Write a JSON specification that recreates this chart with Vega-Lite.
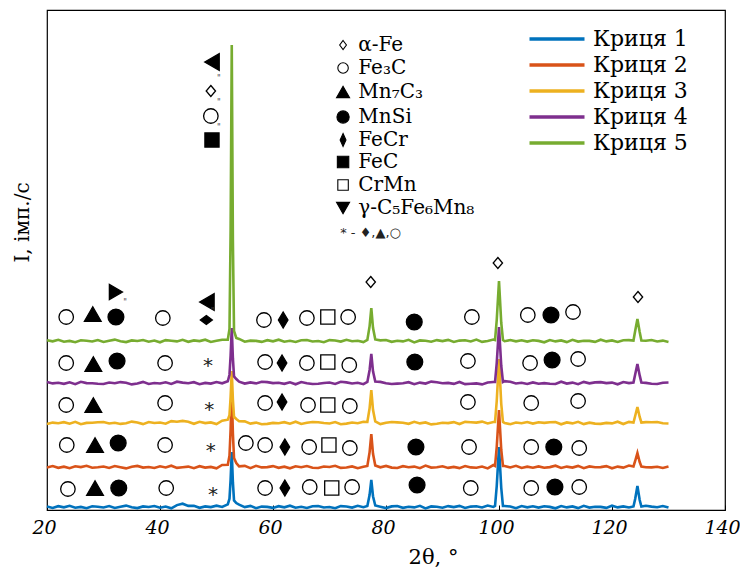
{
"$schema":"https://vega.github.io/schema/vega-lite/v6.json",
"width":678,"height":500,
"autosize":{"type":"none"},
"padding":{"left":47,"top":10,"right":15,"bottom":65},
"background":"white",
"datasets":{
"xrd":[
{"c":1,"x":20,"y":3.4},{"c":1,"x":21,"y":2.1},{"c":1,"x":22,"y":3.8},{"c":1,"x":23,"y":2.7},{"c":1,"x":24,"y":4.2},{"c":1,"x":25,"y":2.3},{"c":1,"x":26,"y":3.1},{"c":1,"x":27,"y":1.8},{"c":1,"x":28,"y":3.7},{"c":1,"x":29,"y":3.2},{"c":1,"x":30,"y":2.5},{"c":1,"x":31,"y":4.0},{"c":1,"x":32,"y":2.1},{"c":1,"x":33,"y":3.3},{"c":1,"x":34,"y":4.4},{"c":1,"x":35,"y":2.8},{"c":1,"x":36,"y":1.9},{"c":1,"x":37,"y":3.6},{"c":1,"x":38,"y":3.0},{"c":1,"x":39,"y":4.0},{"c":1,"x":40,"y":2.3},{"c":1,"x":41,"y":3.5},{"c":1,"x":42,"y":1.7},{"c":1,"x":43,"y":4.9},{"c":1,"x":44,"y":6.3},{"c":1,"x":45,"y":4.1},{"c":1,"x":46,"y":4.2},{"c":1,"x":47,"y":2.2},{"c":1,"x":48,"y":3.6},{"c":1,"x":49,"y":2.9},{"c":1,"x":50,"y":4.3},{"c":1,"x":51,"y":3.0},{"c":1,"x":52,"y":5.7},{"c":1,"x":52.3,"y":11.3},{"c":1,"x":52.5,"y":30.5},{"c":1,"x":52.7,"y":58},{"c":1,"x":52.9,"y":27.8},{"c":1,"x":53.1,"y":9.6},{"c":1,"x":53.5,"y":7},{"c":1,"x":54,"y":5.3},{"c":1,"x":55,"y":2.9},{"c":1,"x":56,"y":4.1},{"c":1,"x":57,"y":1.8},{"c":1,"x":58,"y":3.4},{"c":1,"x":59,"y":3.1},{"c":1,"x":60,"y":2.1},{"c":1,"x":61,"y":3.8},{"c":1,"x":62,"y":2.7},{"c":1,"x":63,"y":4.3},{"c":1,"x":64,"y":2.3},{"c":1,"x":65,"y":3.2},{"c":1,"x":66,"y":2.0},{"c":1,"x":67,"y":3.7},{"c":1,"x":68,"y":4.0},{"c":1,"x":69,"y":2.5},{"c":1,"x":70,"y":3.0},{"c":1,"x":71,"y":1.8},{"c":1,"x":72,"y":3.9},{"c":1,"x":73,"y":3.5},{"c":1,"x":74,"y":2.4},{"c":1,"x":75,"y":4.2},{"c":1,"x":76,"y":2.8},{"c":1,"x":76.7,"y":4},{"c":1,"x":77.1,"y":15.2},{"c":1,"x":77.4,"y":30},{"c":1,"x":77.7,"y":13.8},{"c":1,"x":78.1,"y":4.5},{"c":1,"x":79,"y":3.3},{"c":1,"x":80,"y":1.9},{"c":1,"x":81,"y":3.6},{"c":1,"x":82,"y":4.0},{"c":1,"x":83,"y":2.2},{"c":1,"x":84,"y":3.2},{"c":1,"x":85,"y":2.6},{"c":1,"x":86,"y":4.2},{"c":1,"x":87,"y":1.6},{"c":1,"x":88,"y":3.6},{"c":1,"x":89,"y":3.2},{"c":1,"x":90,"y":2.3},{"c":1,"x":91,"y":3.9},{"c":1,"x":92,"y":2.9},{"c":1,"x":93,"y":4.1},{"c":1,"x":94,"y":2.0},{"c":1,"x":95,"y":3.4},{"c":1,"x":96,"y":3.7},{"c":1,"x":97,"y":2.5},{"c":1,"x":98,"y":4.4},{"c":1,"x":99,"y":3.1},{"c":1,"x":99.3,"y":4},{"c":1,"x":99.6,"y":24},{"c":1,"x":100,"y":63},{"c":1,"x":100.4,"y":22},{"c":1,"x":100.7,"y":4},{"c":1,"x":101,"y":4.0},{"c":1,"x":102,"y":3.5},{"c":1,"x":103,"y":1.8},{"c":1,"x":104,"y":4.0},{"c":1,"x":105,"y":2.7},{"c":1,"x":106,"y":3.7},{"c":1,"x":107,"y":2.4},{"c":1,"x":108,"y":3.8},{"c":1,"x":109,"y":3.1},{"c":1,"x":110,"y":1.7},{"c":1,"x":111,"y":4.0},{"c":1,"x":112,"y":2.6},{"c":1,"x":113,"y":3.6},{"c":1,"x":114,"y":1.9},{"c":1,"x":115,"y":4.2},{"c":1,"x":116,"y":2.4},{"c":1,"x":117,"y":3.3},{"c":1,"x":118,"y":3.1},{"c":1,"x":119,"y":2.1},{"c":1,"x":120,"y":4.3},{"c":1,"x":121,"y":2.6},{"c":1,"x":122,"y":3.6},{"c":1,"x":123,"y":2.5},{"c":1,"x":123.8,"y":3.5},{"c":1,"x":124.1,"y":11},{"c":1,"x":124.5,"y":24},{"c":1,"x":124.9,"y":10},{"c":1,"x":125.2,"y":3.5},{"c":1,"x":126,"y":4.3},{"c":1,"x":127,"y":3.4},{"c":1,"x":128,"y":2.7},{"c":1,"x":129,"y":4.0},{"c":1,"x":130,"y":2.5},
{"c":2,"x":20,"y":42.6},{"c":2,"x":21,"y":43.9},{"c":2,"x":22,"y":42.2},{"c":2,"x":23,"y":43.3},{"c":2,"x":24,"y":41.8},{"c":2,"x":25,"y":43.7},{"c":2,"x":26,"y":42.9},{"c":2,"x":27,"y":44.2},{"c":2,"x":28,"y":42.3},{"c":2,"x":29,"y":42.8},{"c":2,"x":30,"y":43.5},{"c":2,"x":31,"y":42.0},{"c":2,"x":32,"y":43.9},{"c":2,"x":33,"y":42.7},{"c":2,"x":34,"y":41.6},{"c":2,"x":35,"y":43.2},{"c":2,"x":36,"y":44.1},{"c":2,"x":37,"y":42.4},{"c":2,"x":38,"y":43.0},{"c":2,"x":39,"y":42.0},{"c":2,"x":40,"y":43.7},{"c":2,"x":41,"y":42.5},{"c":2,"x":42,"y":44.3},{"c":2,"x":43,"y":42.1},{"c":2,"x":44,"y":42.7},{"c":2,"x":45,"y":43.4},{"c":2,"x":46,"y":41.8},{"c":2,"x":47,"y":43.8},{"c":2,"x":48,"y":42.4},{"c":2,"x":49,"y":43.1},{"c":2,"x":50,"y":41.7},{"c":2,"x":51,"y":45.0},{"c":2,"x":52,"y":45.3},{"c":2,"x":52.3,"y":54.3},{"c":2,"x":52.5,"y":80.5},{"c":2,"x":52.7,"y":118},{"c":2,"x":52.9,"y":76.8},{"c":2,"x":53.1,"y":52},{"c":2,"x":53.5,"y":47},{"c":2,"x":54,"y":43.7},{"c":2,"x":55,"y":44.1},{"c":2,"x":56,"y":41.9},{"c":2,"x":57,"y":44.2},{"c":2,"x":58,"y":42.6},{"c":2,"x":59,"y":42.9},{"c":2,"x":60,"y":43.9},{"c":2,"x":61,"y":42.2},{"c":2,"x":62,"y":43.3},{"c":2,"x":63,"y":41.7},{"c":2,"x":64,"y":43.7},{"c":2,"x":65,"y":42.8},{"c":2,"x":66,"y":44.0},{"c":2,"x":67,"y":42.3},{"c":2,"x":68,"y":42.0},{"c":2,"x":69,"y":43.5},{"c":2,"x":70,"y":43.0},{"c":2,"x":71,"y":44.2},{"c":2,"x":72,"y":42.1},{"c":2,"x":73,"y":42.5},{"c":2,"x":74,"y":43.6},{"c":2,"x":75,"y":41.8},{"c":2,"x":76,"y":43.2},{"c":2,"x":76.7,"y":44},{"c":2,"x":77.1,"y":57.9},{"c":2,"x":77.4,"y":76},{"c":2,"x":77.7,"y":56.2},{"c":2,"x":78.1,"y":44.5},{"c":2,"x":79,"y":42.7},{"c":2,"x":80,"y":44.1},{"c":2,"x":81,"y":42.4},{"c":2,"x":82,"y":42.0},{"c":2,"x":83,"y":43.8},{"c":2,"x":84,"y":42.8},{"c":2,"x":85,"y":43.4},{"c":2,"x":86,"y":41.8},{"c":2,"x":87,"y":44.4},{"c":2,"x":88,"y":42.4},{"c":2,"x":89,"y":42.8},{"c":2,"x":90,"y":43.7},{"c":2,"x":91,"y":42.1},{"c":2,"x":92,"y":43.1},{"c":2,"x":93,"y":41.9},{"c":2,"x":94,"y":44.0},{"c":2,"x":95,"y":42.6},{"c":2,"x":96,"y":42.3},{"c":2,"x":97,"y":43.5},{"c":2,"x":98,"y":41.6},{"c":2,"x":99,"y":44.9},{"c":2,"x":99.3,"y":44},{"c":2,"x":99.6,"y":63},{"c":2,"x":100,"y":100},{"c":2,"x":100.4,"y":60},{"c":2,"x":100.7,"y":44},{"c":2,"x":101,"y":44},{"c":2,"x":102,"y":42.5},{"c":2,"x":103,"y":44.2},{"c":2,"x":104,"y":42.0},{"c":2,"x":105,"y":43.3},{"c":2,"x":106,"y":42.3},{"c":2,"x":107,"y":43.6},{"c":2,"x":108,"y":42.2},{"c":2,"x":109,"y":42.9},{"c":2,"x":110,"y":44.3},{"c":2,"x":111,"y":42.0},{"c":2,"x":112,"y":43.4},{"c":2,"x":113,"y":42.4},{"c":2,"x":114,"y":44.1},{"c":2,"x":115,"y":41.8},{"c":2,"x":116,"y":43.6},{"c":2,"x":117,"y":42.7},{"c":2,"x":118,"y":42.9},{"c":2,"x":119,"y":43.9},{"c":2,"x":120,"y":41.7},{"c":2,"x":121,"y":43.4},{"c":2,"x":122,"y":42.4},{"c":2,"x":123,"y":44.5},{"c":2,"x":123.8,"y":43.5},{"c":2,"x":124.1,"y":49},{"c":2,"x":124.5,"y":57},{"c":2,"x":124.9,"y":48},{"c":2,"x":125.2,"y":43.5},{"c":2,"x":126,"y":42.7},{"c":2,"x":127,"y":42.6},{"c":2,"x":128,"y":43.3},{"c":2,"x":129,"y":42.0},{"c":2,"x":130,"y":43.5},
{"c":3,"x":20,"y":86.1},{"c":3,"x":21,"y":87.4},{"c":3,"x":22,"y":86.7},{"c":3,"x":23,"y":87.8},{"c":3,"x":24,"y":86.3},{"c":3,"x":25,"y":88.2},{"c":3,"x":26,"y":85.8},{"c":3,"x":27,"y":87.1},{"c":3,"x":28,"y":87.2},{"c":3,"x":29,"y":87.7},{"c":3,"x":30,"y":88.0},{"c":3,"x":31,"y":86.5},{"c":3,"x":32,"y":87.3},{"c":3,"x":33,"y":86.1},{"c":3,"x":34,"y":86.8},{"c":3,"x":35,"y":88.4},{"c":3,"x":36,"y":87.6},{"c":3,"x":37,"y":85.9},{"c":3,"x":38,"y":88.0},{"c":3,"x":39,"y":87.0},{"c":3,"x":40,"y":87.5},{"c":3,"x":41,"y":86.3},{"c":3,"x":42,"y":88.9},{"c":3,"x":43,"y":88.2},{"c":3,"x":44,"y":89.1},{"c":3,"x":45,"y":88.3},{"c":3,"x":46,"y":86.2},{"c":3,"x":47,"y":88.2},{"c":3,"x":48,"y":86.9},{"c":3,"x":49,"y":87.6},{"c":3,"x":50,"y":86.0},{"c":3,"x":51,"y":89.3},{"c":3,"x":52,"y":90.3},{"c":3,"x":52.3,"y":94.8},{"c":3,"x":52.5,"y":113},{"c":3,"x":52.7,"y":139},{"c":3,"x":52.9,"y":110.4},{"c":3,"x":53.1,"y":93.2},{"c":3,"x":53.5,"y":91},{"c":3,"x":54,"y":88.7},{"c":3,"x":55,"y":88.6},{"c":3,"x":56,"y":86.4},{"c":3,"x":57,"y":87.4},{"c":3,"x":58,"y":85.8},{"c":3,"x":59,"y":86.1},{"c":3,"x":60,"y":87.1},{"c":3,"x":61,"y":86.7},{"c":3,"x":62,"y":87.8},{"c":3,"x":63,"y":86.3},{"c":3,"x":64,"y":88.3},{"c":3,"x":65,"y":86.0},{"c":3,"x":66,"y":87.2},{"c":3,"x":67,"y":88.0},{"c":3,"x":68,"y":87.7},{"c":3,"x":69,"y":87.0},{"c":3,"x":70,"y":86.5},{"c":3,"x":71,"y":87.9},{"c":3,"x":72,"y":85.8},{"c":3,"x":73,"y":86.4},{"c":3,"x":74,"y":87.5},{"c":3,"x":75,"y":86.8},{"c":3,"x":76,"y":88.2},{"c":3,"x":76.7,"y":88},{"c":3,"x":77.1,"y":101.9},{"c":3,"x":77.4,"y":120},{"c":3,"x":77.7,"y":100.2},{"c":3,"x":78.1,"y":88.5},{"c":3,"x":79,"y":85.9},{"c":3,"x":80,"y":87.3},{"c":3,"x":81,"y":88.0},{"c":3,"x":82,"y":87.6},{"c":3,"x":83,"y":87.2},{"c":3,"x":84,"y":86.2},{"c":3,"x":85,"y":88.2},{"c":3,"x":86,"y":86.6},{"c":3,"x":87,"y":87.6},{"c":3,"x":88,"y":85.6},{"c":3,"x":89,"y":86.3},{"c":3,"x":90,"y":87.2},{"c":3,"x":91,"y":86.9},{"c":3,"x":92,"y":87.9},{"c":3,"x":93,"y":86.0},{"c":3,"x":94,"y":88.1},{"c":3,"x":95,"y":87.7},{"c":3,"x":96,"y":87.4},{"c":3,"x":97,"y":88.4},{"c":3,"x":98,"y":86.5},{"c":3,"x":99,"y":88},{"c":3,"x":99.3,"y":88},{"c":3,"x":99.6,"y":109},{"c":3,"x":100,"y":151},{"c":3,"x":100.4,"y":106},{"c":3,"x":100.7,"y":88},{"c":3,"x":101,"y":87.1},{"c":3,"x":102,"y":85.8},{"c":3,"x":103,"y":87.5},{"c":3,"x":104,"y":86.7},{"c":3,"x":105,"y":88.0},{"c":3,"x":106,"y":86.4},{"c":3,"x":107,"y":87.7},{"c":3,"x":108,"y":87.1},{"c":3,"x":109,"y":87.8},{"c":3,"x":110,"y":88.0},{"c":3,"x":111,"y":85.7},{"c":3,"x":112,"y":87.6},{"c":3,"x":113,"y":86.6},{"c":3,"x":114,"y":88.2},{"c":3,"x":115,"y":85.9},{"c":3,"x":116,"y":87.3},{"c":3,"x":117,"y":86.4},{"c":3,"x":118,"y":86.1},{"c":3,"x":119,"y":87.1},{"c":3,"x":120,"y":86.6},{"c":3,"x":121,"y":88.3},{"c":3,"x":122,"y":86.0},{"c":3,"x":123,"y":88.1},{"c":3,"x":123.8,"y":87.5},{"c":3,"x":124.1,"y":94},{"c":3,"x":124.5,"y":103},{"c":3,"x":124.9,"y":93},{"c":3,"x":125.2,"y":87.5},{"c":3,"x":126,"y":87.9},{"c":3,"x":127,"y":87.8},{"c":3,"x":128,"y":88.0},{"c":3,"x":129,"y":86.7},{"c":3,"x":130,"y":86.5},
{"c":4,"x":20,"y":127.9},{"c":4,"x":21,"y":126.6},{"c":4,"x":22,"y":127.3},{"c":4,"x":23,"y":126.2},{"c":4,"x":24,"y":127.7},{"c":4,"x":25,"y":125.8},{"c":4,"x":26,"y":128.2},{"c":4,"x":27,"y":126.9},{"c":4,"x":28,"y":126.8},{"c":4,"x":29,"y":126.3},{"c":4,"x":30,"y":126.0},{"c":4,"x":31,"y":127.5},{"c":4,"x":32,"y":126.7},{"c":4,"x":33,"y":127.9},{"c":4,"x":34,"y":127.2},{"c":4,"x":35,"y":125.6},{"c":4,"x":36,"y":126.4},{"c":4,"x":37,"y":128.1},{"c":4,"x":38,"y":126.0},{"c":4,"x":39,"y":127.0},{"c":4,"x":40,"y":126.5},{"c":4,"x":41,"y":127.7},{"c":4,"x":42,"y":126.1},{"c":4,"x":43,"y":128.3},{"c":4,"x":44,"y":127.4},{"c":4,"x":45,"y":126.7},{"c":4,"x":46,"y":127.8},{"c":4,"x":47,"y":125.8},{"c":4,"x":48,"y":127.1},{"c":4,"x":49,"y":126.4},{"c":4,"x":50,"y":128.0},{"c":4,"x":51,"y":126.7},{"c":4,"x":52,"y":128.7},{"c":4,"x":52.3,"y":135.3},{"c":4,"x":52.5,"y":154.5},{"c":4,"x":52.7,"y":182},{"c":4,"x":52.9,"y":151.8},{"c":4,"x":53.1,"y":133.6},{"c":4,"x":53.5,"y":131},{"c":4,"x":54,"y":128.3},{"c":4,"x":55,"y":126.4},{"c":4,"x":56,"y":127.6},{"c":4,"x":57,"y":126.6},{"c":4,"x":58,"y":128.2},{"c":4,"x":59,"y":127.9},{"c":4,"x":60,"y":126.9},{"c":4,"x":61,"y":127.3},{"c":4,"x":62,"y":126.2},{"c":4,"x":63,"y":127.7},{"c":4,"x":64,"y":125.7},{"c":4,"x":65,"y":128.0},{"c":4,"x":66,"y":126.8},{"c":4,"x":67,"y":126.0},{"c":4,"x":68,"y":126.3},{"c":4,"x":69,"y":127.0},{"c":4,"x":70,"y":127.5},{"c":4,"x":71,"y":126.1},{"c":4,"x":72,"y":128.2},{"c":4,"x":73,"y":127.6},{"c":4,"x":74,"y":126.5},{"c":4,"x":75,"y":127.2},{"c":4,"x":76,"y":125.8},{"c":4,"x":76.7,"y":128},{"c":4,"x":77.1,"y":140},{"c":4,"x":77.4,"y":156},{"c":4,"x":77.7,"y":138.6},{"c":4,"x":78.1,"y":128.5},{"c":4,"x":79,"y":128.1},{"c":4,"x":80,"y":126.7},{"c":4,"x":81,"y":126.0},{"c":4,"x":82,"y":126.4},{"c":4,"x":83,"y":126.8},{"c":4,"x":84,"y":127.8},{"c":4,"x":85,"y":125.8},{"c":4,"x":86,"y":127.4},{"c":4,"x":87,"y":126.4},{"c":4,"x":88,"y":128.4},{"c":4,"x":89,"y":127.7},{"c":4,"x":90,"y":126.8},{"c":4,"x":91,"y":127.1},{"c":4,"x":92,"y":126.1},{"c":4,"x":93,"y":128.0},{"c":4,"x":94,"y":125.9},{"c":4,"x":95,"y":126.3},{"c":4,"x":96,"y":126.6},{"c":4,"x":97,"y":125.6},{"c":4,"x":98,"y":127.5},{"c":4,"x":99,"y":128},{"c":4,"x":99.3,"y":128},{"c":4,"x":99.6,"y":147},{"c":4,"x":100,"y":183},{"c":4,"x":100.4,"y":144},{"c":4,"x":100.7,"y":128},{"c":4,"x":101,"y":128.9},{"c":4,"x":102,"y":128.2},{"c":4,"x":103,"y":126.5},{"c":4,"x":104,"y":127.3},{"c":4,"x":105,"y":126.0},{"c":4,"x":106,"y":127.6},{"c":4,"x":107,"y":126.3},{"c":4,"x":108,"y":126.9},{"c":4,"x":109,"y":126.2},{"c":4,"x":110,"y":126.0},{"c":4,"x":111,"y":128.3},{"c":4,"x":112,"y":126.4},{"c":4,"x":113,"y":127.4},{"c":4,"x":114,"y":125.8},{"c":4,"x":115,"y":128.1},{"c":4,"x":116,"y":126.7},{"c":4,"x":117,"y":127.6},{"c":4,"x":118,"y":127.9},{"c":4,"x":119,"y":126.9},{"c":4,"x":120,"y":127.4},{"c":4,"x":121,"y":125.7},{"c":4,"x":122,"y":128.0},{"c":4,"x":123,"y":126.9},{"c":4,"x":123.8,"y":127.5},{"c":4,"x":124.1,"y":135.5},{"c":4,"x":124.5,"y":146},{"c":4,"x":124.9,"y":134.6},{"c":4,"x":125.2,"y":127.5},{"c":4,"x":126,"y":127.1},{"c":4,"x":127,"y":126.2},{"c":4,"x":128,"y":126.0},{"c":4,"x":129,"y":127.3},{"c":4,"x":130,"y":127.5},
{"c":5,"x":20,"y":169.8},{"c":5,"x":21,"y":168.7},{"c":5,"x":22,"y":170.2},{"c":5,"x":23,"y":168.3},{"c":5,"x":24,"y":169.1},{"c":5,"x":25,"y":167.8},{"c":5,"x":26,"y":169.7},{"c":5,"x":27,"y":169.2},{"c":5,"x":28,"y":168.5},{"c":5,"x":29,"y":170.0},{"c":5,"x":30,"y":168.1},{"c":5,"x":31,"y":169.3},{"c":5,"x":32,"y":170.4},{"c":5,"x":33,"y":168.8},{"c":5,"x":34,"y":167.9},{"c":5,"x":35,"y":169.6},{"c":5,"x":36,"y":169.0},{"c":5,"x":37,"y":170.0},{"c":5,"x":38,"y":168.3},{"c":5,"x":39,"y":169.5},{"c":5,"x":40,"y":167.7},{"c":5,"x":41,"y":169.9},{"c":5,"x":42,"y":169.3},{"c":5,"x":43,"y":168.6},{"c":5,"x":44,"y":170.2},{"c":5,"x":45,"y":168.2},{"c":5,"x":46,"y":169.6},{"c":5,"x":47,"y":168.9},{"c":5,"x":48,"y":170.3},{"c":5,"x":49,"y":168.0},{"c":5,"x":50,"y":169.2},{"c":5,"x":51,"y":170.3},{"c":5,"x":52,"y":170.4},{"c":5,"x":52.3,"y":181},{"c":5,"x":52.5,"y":280},{"c":5,"x":52.7,"y":465},{"c":5,"x":52.9,"y":270},{"c":5,"x":53.1,"y":179},{"c":5,"x":53.5,"y":172},{"c":5,"x":54,"y":171.1},{"c":5,"x":55,"y":168.3},{"c":5,"x":56,"y":169.4},{"c":5,"x":57,"y":169.1},{"c":5,"x":58,"y":168.1},{"c":5,"x":59,"y":169.8},{"c":5,"x":60,"y":168.7},{"c":5,"x":61,"y":170.3},{"c":5,"x":62,"y":168.3},{"c":5,"x":63,"y":169.2},{"c":5,"x":64,"y":168.0},{"c":5,"x":65,"y":169.7},{"c":5,"x":66,"y":170.0},{"c":5,"x":67,"y":168.5},{"c":5,"x":68,"y":169.0},{"c":5,"x":69,"y":167.8},{"c":5,"x":70,"y":169.9},{"c":5,"x":71,"y":169.5},{"c":5,"x":72,"y":168.4},{"c":5,"x":73,"y":170.2},{"c":5,"x":74,"y":168.8},{"c":5,"x":75,"y":169.3},{"c":5,"x":76,"y":167.9},{"c":5,"x":76.7,"y":170},{"c":5,"x":77.1,"y":183.9},{"c":5,"x":77.4,"y":202},{"c":5,"x":77.7,"y":182.2},{"c":5,"x":78.1,"y":170.5},{"c":5,"x":79,"y":169.6},{"c":5,"x":80,"y":170.0},{"c":5,"x":81,"y":168.2},{"c":5,"x":82,"y":169.2},{"c":5,"x":83,"y":168.6},{"c":5,"x":84,"y":170.2},{"c":5,"x":85,"y":167.6},{"c":5,"x":86,"y":169.6},{"c":5,"x":87,"y":169.2},{"c":5,"x":88,"y":168.3},{"c":5,"x":89,"y":169.9},{"c":5,"x":90,"y":168.9},{"c":5,"x":91,"y":170.1},{"c":5,"x":92,"y":168.0},{"c":5,"x":93,"y":169.4},{"c":5,"x":94,"y":169.7},{"c":5,"x":95,"y":168.5},{"c":5,"x":96,"y":170.4},{"c":5,"x":97,"y":168.1},{"c":5,"x":98,"y":169.0},{"c":5,"x":99,"y":170.5},{"c":5,"x":99.3,"y":170},{"c":5,"x":99.6,"y":190},{"c":5,"x":100,"y":229},{"c":5,"x":100.4,"y":187},{"c":5,"x":100.7,"y":170},{"c":5,"x":101,"y":168.8},{"c":5,"x":102,"y":170.0},{"c":5,"x":103,"y":168.7},{"c":5,"x":104,"y":169.7},{"c":5,"x":105,"y":168.4},{"c":5,"x":106,"y":169.8},{"c":5,"x":107,"y":169.1},{"c":5,"x":108,"y":167.7},{"c":5,"x":109,"y":170.0},{"c":5,"x":110,"y":168.6},{"c":5,"x":111,"y":169.6},{"c":5,"x":112,"y":167.9},{"c":5,"x":113,"y":170.2},{"c":5,"x":114,"y":168.4},{"c":5,"x":115,"y":169.3},{"c":5,"x":116,"y":169.1},{"c":5,"x":117,"y":168.1},{"c":5,"x":118,"y":170.3},{"c":5,"x":119,"y":168.6},{"c":5,"x":120,"y":169.6},{"c":5,"x":121,"y":168.0},{"c":5,"x":122,"y":169.8},{"c":5,"x":123,"y":169.9},{"c":5,"x":123.8,"y":169.5},{"c":5,"x":124.1,"y":179},{"c":5,"x":124.5,"y":191},{"c":5,"x":124.9,"y":178},{"c":5,"x":125.2,"y":169.5},{"c":5,"x":126,"y":169.2},{"c":5,"x":127,"y":170.0},{"c":5,"x":128,"y":168.5},{"c":5,"x":129,"y":169.4},{"c":5,"x":130,"y":168.1}
],
"sym":[
{"x":23.4,"y":193,"s":"o"},{"x":28.1,"y":196,"s":"tri"},{"x":32.2,"y":193,"s":"dot"},{"x":32.2,"y":218,"s":"tright"},{"x":40.5,"y":192,"s":"o"},{"x":48.3,"y":208,"s":"tleft"},{"x":48.2,"y":190,"s":"wdia"},{"x":58.4,"y":190,"s":"o"},{"x":61.8,"y":190,"s":"dia"},{"x":66.0,"y":192,"s":"o"},{"x":69.7,"y":193,"s":"osq"},{"x":73.3,"y":193,"s":"o"},{"x":77.3,"y":228,"s":"odia"},{"x":85.0,"y":188,"s":"dot"},{"x":95.2,"y":193,"s":"o"},{"x":99.8,"y":247,"s":"odia"},{"x":105.1,"y":195,"s":"o"},{"x":109.2,"y":195,"s":"dot"},{"x":113.1,"y":198,"s":"o"},{"x":124.6,"y":213,"s":"odia"},
{"x":49.2,"y":448,"s":"tleft"},{"x":49.0,"y":419,"s":"odia"},{"x":49.0,"y":394,"s":"o"},{"x":49.2,"y":370,"s":"sq"},
{"x":23.4,"y":147,"s":"o"},{"x":28.2,"y":146,"s":"tri"},{"x":32.4,"y":149,"s":"dot"},{"x":40.9,"y":147,"s":"o"},{"x":48.5,"y":149,"s":"ast"},{"x":58.6,"y":148,"s":"o"},{"x":61.6,"y":147,"s":"dia"},{"x":66.0,"y":147,"s":"o"},{"x":69.7,"y":148,"s":"osq"},{"x":73.5,"y":145,"s":"o"},{"x":85.1,"y":148,"s":"dot"},{"x":94.5,"y":149,"s":"o"},{"x":105.5,"y":147,"s":"o"},{"x":109.4,"y":150,"s":"dot"},{"x":114.0,"y":151,"s":"o"},
{"x":23.4,"y":105,"s":"o"},{"x":28.2,"y":105,"s":"tri"},{"x":40.9,"y":107,"s":"o"},{"x":48.7,"y":105,"s":"ast"},{"x":58.6,"y":107,"s":"o"},{"x":61.6,"y":108,"s":"dia"},{"x":66.2,"y":105,"s":"o"},{"x":69.7,"y":105,"s":"osq"},{"x":73.6,"y":104,"s":"o"},{"x":94.5,"y":108,"s":"o"},{"x":105.7,"y":107,"s":"o"},{"x":114.0,"y":109,"s":"o"},
{"x":23.5,"y":65,"s":"o"},{"x":28.5,"y":65,"s":"tri"},{"x":32.6,"y":67,"s":"dot"},{"x":40.9,"y":65,"s":"o"},{"x":49.0,"y":64,"s":"ast"},{"x":55.2,"y":67,"s":"o"},{"x":58.6,"y":65,"s":"o"},{"x":62.1,"y":63,"s":"dia"},{"x":66.4,"y":63,"s":"o"},{"x":69.9,"y":65,"s":"osq"},{"x":73.6,"y":62,"s":"o"},{"x":85.3,"y":63,"s":"dot"},{"x":94.7,"y":63,"s":"o"},{"x":105.7,"y":63,"s":"o"},{"x":109.7,"y":63,"s":"dot"},{"x":114.2,"y":62,"s":"o"},
{"x":23.7,"y":21,"s":"o"},{"x":28.5,"y":22,"s":"tri"},{"x":32.7,"y":22,"s":"dot"},{"x":41.1,"y":22,"s":"o"},{"x":49.4,"y":20,"s":"ast"},{"x":58.6,"y":22,"s":"o"},{"x":62.1,"y":22,"s":"dia"},{"x":66.5,"y":23,"s":"o"},{"x":70.4,"y":22,"s":"osq"},{"x":74.0,"y":23,"s":"o"},{"x":85.5,"y":25,"s":"dot"},{"x":95.0,"y":22,"s":"o"},{"x":105.7,"y":22,"s":"o"},{"x":109.9,"y":23,"s":"dot"},{"x":114.2,"y":23,"s":"o"}
],
"leg":[
{"x":72.4,"y":465,"s":"odia"},{"x":72.4,"y":442,"s":"o"},{"x":72.4,"y":418,"s":"tri"},{"x":72.4,"y":393,"s":"dot"},{"x":72.4,"y":370,"s":"dia"},{"x":72.4,"y":348,"s":"sq"},{"x":72.4,"y":325,"s":"osq"},{"x":72.4,"y":302,"s":"tdown"}
],
"legtxt":[
{"x":75.1,"y":465,"t":"α-Fe"},{"x":75.1,"y":442,"t":"Fe₃C"},{"x":75.1,"y":418,"t":"Mn₇C₃"},{"x":75.1,"y":393,"t":"MnSi"},{"x":75.1,"y":370,"t":"FeCr"},{"x":75.1,"y":348,"t":"FeC"},{"x":75.1,"y":325,"t":"CrMn"},{"x":75.1,"y":302,"t":"γ-C₅Fe₆Mn₈"}
],
"note":[{"x":71.9,"y":277,"t":"* - ♦,▲,○"}],
"tiny":[{"x":33.8,"y":207},{"x":49.3,"y":198},{"x":50.4,"y":431},{"x":50.4,"y":407},{"x":50.4,"y":382}]
},
"layer":[
{"data":{"name":"xrd"},
 "mark":{"type":"line","strokeWidth":2.6},
 "encoding":{
  "x":{"field":"x","type":"quantitative","scale":{"domain":[20,140],"nice":false,"zero":false},
   "axis":{"title":"2θ, °","values":[20,40,60,80,100,120,140],"format":"d","labelFont":"DejaVu Serif","labelFontStyle":"italic","labelFontSize":19,"labelColor":"black","labelPadding":13,"labelOffset":-3,"labelFlush":false,"tickSize":-5,"tickColor":"black","domain":false,"grid":false,"titleFont":"DejaVu Serif","titleFontSize":21,"titleFontWeight":"normal","titleColor":"black","titleX":386,"titleY":47,"titleBaseline":"middle","titleAlign":"center"}},
  "y":{"field":"y","type":"quantitative","scale":{"domain":[0,500],"nice":false,"zero":false},
   "axis":{"title":"I, імп./с","labels":false,"ticks":false,"domain":false,"grid":false,"titleFont":"DejaVu Serif","titleFontSize":20,"titleFontWeight":"normal","titleColor":"black","titleX":-25,"titleY":212,"titleAngle":-90,"titleAlign":"center","titleBaseline":"middle"}},
  "color":{"field":"c","type":"nominal","scale":{"domain":[1,2,3,4,5],"range":["#0072BD","#D95319","#EDB120","#7E2F8E","#77AC30"]},
   "legend":{"title":null,"orient":"none","legendX":499,"legendY":18,"symbolType":"M-5,0H5","symbolSize":121,"symbolStrokeWidth":3.5,"labelExpr":"'Криця ' + datum.label","labelFont":"DejaVu Serif","labelFontSize":22,"labelColor":"black","labelOffset":25,"labelLimit":0,"rowPadding":4,"padding":0}}
 }},
{"data":{"name":"sym"},
 "transform":[{"filter":"datum.s !== 'ast'"}],
 "mark":{"type":"point","filled":true,"stroke":"black","strokeWidth":1.3,"opacity":1,"fillOpacity":1},
 "encoding":{
  "x":{"field":"x","type":"quantitative"},
  "y":{"field":"y","type":"quantitative"},
  "shape":{"field":"s","type":"nominal","legend":null,"scale":{"domain":["o","tri","dot","dia","sq","osq","tdown","tleft","tright","odia","wdia"],"range":["circle","triangle-up","circle","M0,-1L0.6,0L0,1L-0.6,0Z","square","square","triangle-down","triangle-left","triangle-right","M0,-1L0.85,0L0,1L-0.85,0Z","M0,-0.75L1,0L0,0.75L-1,0Z"]}},
  "fill":{"field":"s","type":"nominal","legend":null,"scale":{"domain":["o","tri","dot","dia","sq","osq","tdown","tleft","tright","odia","wdia"],"range":["white","black","black","black","black","white","black","black","black","white","black"]}},
  "size":{"field":"s","type":"ordinal","legend":null,"scale":{"type":"ordinal","domain":["o","tri","dot","dia","sq","osq","tdown","tleft","tright","odia","wdia"],"range":[210,280,250,256,200,200,200,280,230,121,144]}}
 }},
{"data":{"name":"sym"},
 "transform":[{"filter":"datum.s === 'ast'"}],
 "mark":{"type":"text","text":"*","font":"DejaVu Sans","fontSize":20,"color":"#222","baseline":"middle","dy":5},
 "encoding":{"x":{"field":"x","type":"quantitative"},"y":{"field":"y","type":"quantitative"}}},
{"data":{"name":"leg"},
 "mark":{"type":"point","filled":true,"stroke":"black","strokeWidth":1.1,"opacity":1,"fillOpacity":1},
 "encoding":{
  "x":{"field":"x","type":"quantitative"},
  "y":{"field":"y","type":"quantitative"},
  "shape":{"field":"s","type":"nominal","legend":null,"scale":{"domain":["odia","o","tri","dot","dia","sq","osq","tdown"],"range":["M0,-1L0.75,0L0,1L-0.75,0Z","circle","triangle-up","circle","M0,-1L0.45,0L0,1L-0.45,0Z","square","square","triangle-down"]}},
  "fill":{"field":"s","type":"nominal","legend":null,"scale":{"domain":["odia","o","tri","dot","dia","sq","osq","tdown"],"range":["white","white","black","black","black","black","white","black"]}},
  "size":{"field":"s","type":"ordinal","legend":null,"scale":{"type":"ordinal","domain":["odia","o","tri","dot","dia","sq","osq","tdown"],"range":[81,110,170,150,169,130,110,170]}}
 }},
{"data":{"name":"legtxt"},
 "mark":{"type":"text","align":"left","baseline":"middle","font":"DejaVu Serif","fontSize":20,"color":"black"},
 "encoding":{"x":{"field":"x","type":"quantitative"},"y":{"field":"y","type":"quantitative"},"text":{"field":"t"}}},
{"data":{"name":"note"},
 "mark":{"type":"text","align":"left","baseline":"middle","font":"DejaVu Sans","fontSize":13,"color":"#222"},
 "encoding":{"x":{"field":"x","type":"quantitative"},"y":{"field":"y","type":"quantitative"},"text":{"field":"t"}}},
{"data":{"name":"tiny"},
 "mark":{"type":"text","text":"\"","align":"center","baseline":"middle","font":"DejaVu Sans","fontSize":8,"color":"#444"},
 "encoding":{"x":{"field":"x","type":"quantitative"},"y":{"field":"y","type":"quantitative"}}}
],
"resolve":{"scale":{"shape":"independent","size":"independent","fill":"independent"}},
"config":{"view":{"stroke":"black","strokeWidth":1.2,"fill":"white"},"font":"DejaVu Serif"}
}
